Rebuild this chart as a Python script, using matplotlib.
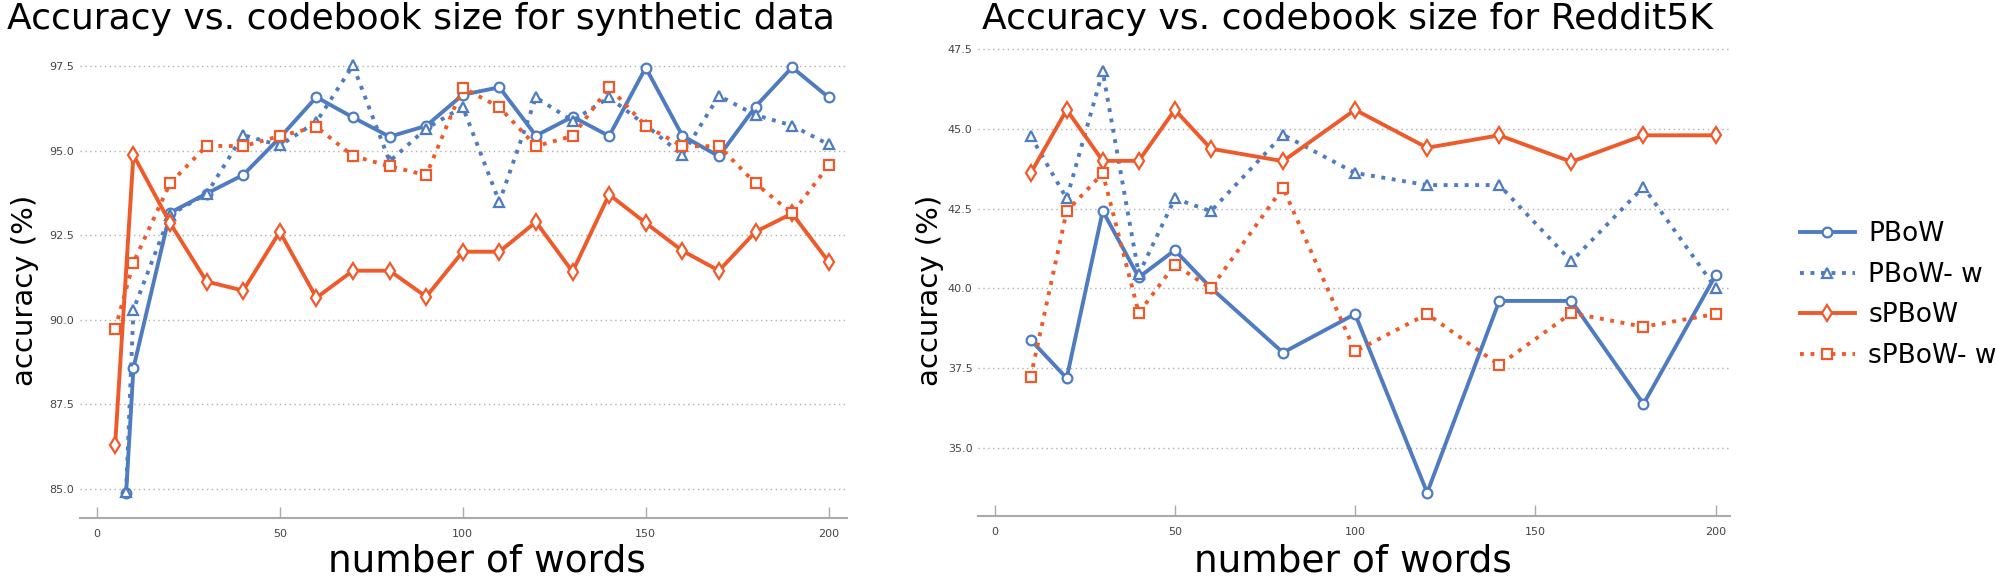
import matplotlib.pyplot as plt
from matplotlib.lines import Line2D

# synthetic data
syn_x_pbow = [8, 10, 20, 30, 40, 50, 60, 70, 80, 90, 100, 110, 120, 130, 140, 150, 160, 170, 180, 190, 200]
syn_pbow = [84.87, 88.57, 93.16, 93.73, 94.28, 95.38, 96.58, 95.98, 95.41, 95.73, 96.65,
            96.87, 95.44, 96.0, 95.43, 97.45, 95.44, 94.83, 96.3, 97.46, 96.57]
syn_pbow_w = [84.9, 90.3, 93.1, 93.72, 95.46, 95.15, 95.85, 97.52, 94.68, 95.65, 96.29,
              93.48, 96.57, 95.88, 96.57, 95.75, 94.87, 96.62, 96.05, 95.74, 95.18]
syn_x_spbow = [5, 10, 20, 30, 40, 50, 60, 70, 80, 90, 100, 110, 120, 130, 140, 150, 160, 170, 180, 190, 200]
syn_spbow = [86.3, 94.87, 92.86, 91.13, 90.86, 92.6, 90.65, 91.45, 91.45, 90.68, 92.01,
             92.01, 92.89, 91.42, 93.7, 92.86, 92.04, 91.45, 92.6, 93.14, 91.71]
syn_spbow_w = [89.72, 91.69, 94.03, 95.14, 95.13, 95.43, 95.7, 94.84, 94.54, 94.27, 96.86,
               96.28, 95.13, 95.43, 96.87, 95.73, 95.13, 95.13, 94.03, 93.14, 94.56]

# Reddit5K
red_x = [10, 20, 30, 40, 50, 60, 80, 100, 120, 140, 160, 180, 200]
red_pbow = [38.39, 37.19, 42.43, 40.35, 41.2, 40.02, 37.99, 39.2, 33.6, 39.61, 39.61, 36.38, 40.41]
red_pbow_w = [44.78, 42.82, 46.8, 40.45, 42.82, 42.42, 44.82, 43.62, 43.24, 43.24, 40.85, 43.18, 40.02]
red_spbow = [43.61, 45.6, 44.0, 44.0, 45.6, 44.38, 43.99, 45.6, 44.41, 44.8, 43.97, 44.8, 44.8]
red_spbow_w = [37.22, 42.42, 43.61, 39.23, 40.75, 40.0, 43.16, 38.03, 39.2, 37.6, 39.23, 38.8, 39.2]

labels = ['PBoW', 'PBoW- w', 'sPBoW', 'sPBoW- w']
blue = '#4f7cc0'
orange = '#ef5a2a'
dots = (0, (1.0, 1.7))

styles = [
    dict(color=blue, ls='-', marker='o', lw=2.8, ms=7),
    dict(color=blue, ls=dots, marker='^', lw=2.8, ms=7),
    dict(color=orange, ls='-', marker='d', lw=2.8, ms=8),
    dict(color=orange, ls=dots, marker='s', lw=2.8, ms=7),
]

fig = plt.figure(figsize=(19.96, 5.88), dpi=100)
ax1 = fig.add_axes([80 / 1996, 1 - 518 / 588, (847 - 80) / 1996, (518 - 45) / 588])
ax2 = fig.add_axes([978 / 1996, 1 - 516 / 588, (1730 - 978) / 1996, (516 - 45) / 588])

series1 = [(syn_x_pbow, syn_pbow), (syn_x_pbow, syn_pbow_w),
           (syn_x_spbow, syn_spbow), (syn_x_spbow, syn_spbow_w)]
series2 = [(red_x, red_pbow), (red_x, red_pbow_w), (red_x, red_spbow), (red_x, red_spbow_w)]

for ax, series in [(ax1, series1), (ax2, series2)]:
    for (x, y), st in zip(series, styles):
        ax.plot(x, y, color=st['color'], ls=st['ls'], lw=st['lw'], marker=st['marker'],
                ms=st['ms'], mfc='white', mec=st['color'], mew=1.6,
                dash_capstyle='butt', solid_joinstyle='round')
    for s in ['top', 'right', 'left']:
        ax.spines[s].set_visible(False)
    ax.spines['bottom'].set_color('#aaaaaa')
    ax.spines['bottom'].set_linewidth(1.5)
    ax.grid(axis='y', color='#b0b0b0', ls=(0, (1, 2.5)), lw=1.0)
    ax.set_axisbelow(True)
    ax.tick_params(axis='x', direction='in', length=8, width=1, color='#aaaaaa',
                   labelsize=8, labelcolor='#444444', pad=8)
    ax.tick_params(axis='y', length=0, labelsize=8, labelcolor='#444444', pad=4)
    ax.set_xticks([0, 50, 100, 150, 200])

ax1.set_xlim(-4.6, 205)
ax1.set_ylim(84.14, 98.12)
ax1.set_yticks([85.0, 87.5, 90.0, 92.5, 95.0, 97.5])
ax1.set_yticklabels(['85.0', '87.5', '90.0', '92.5', '95.0', '97.5'])

ax2.set_xlim(-4.6, 204)
ax2.set_ylim(32.87, 47.63)
ax2.set_yticks([35.0, 37.5, 40.0, 42.5, 45.0, 47.5])
ax2.set_yticklabels(['35.0', '37.5', '40.0', '42.5', '45.0', '47.5'])

fig.text(421 / 1996, 1 - 19 / 588, 'Accuracy vs. codebook size for synthetic data',
         ha='center', va='center', fontsize=26)
fig.text(1347 / 1996, 1 - 19 / 588, 'Accuracy vs. codebook size for Reddit5K',
         ha='center', va='center', fontsize=26)
fig.text(25 / 1996, 1 - 290 / 588, 'accuracy (%)', rotation=90, ha='center', va='center', fontsize=21)
fig.text(930 / 1996, 1 - 290 / 588, 'accuracy (%)', rotation=90, ha='center', va='center', fontsize=21)
fig.text(487 / 1996, 1 - 561 / 588, 'number of words', ha='center', va='center', fontsize=27)
fig.text(1353 / 1996, 1 - 561 / 588, 'number of words', ha='center', va='center', fontsize=27)

handles = [Line2D([], [], color=st['color'], ls=st['ls'], lw=st['lw'], marker=st['marker'],
                  ms=st['ms'], mfc='white', mec=st['color'], mew=1.6, dash_capstyle='butt')
           for st in styles]
fig.legend(handles, labels, loc='center left', bbox_to_anchor=(1776 / 1996, 1 - 295 / 588),
           frameon=False, fontsize=19, handlelength=2.1, labelspacing=0.55, handletextpad=0.5)

fig.savefig('out.png', dpi=100)
